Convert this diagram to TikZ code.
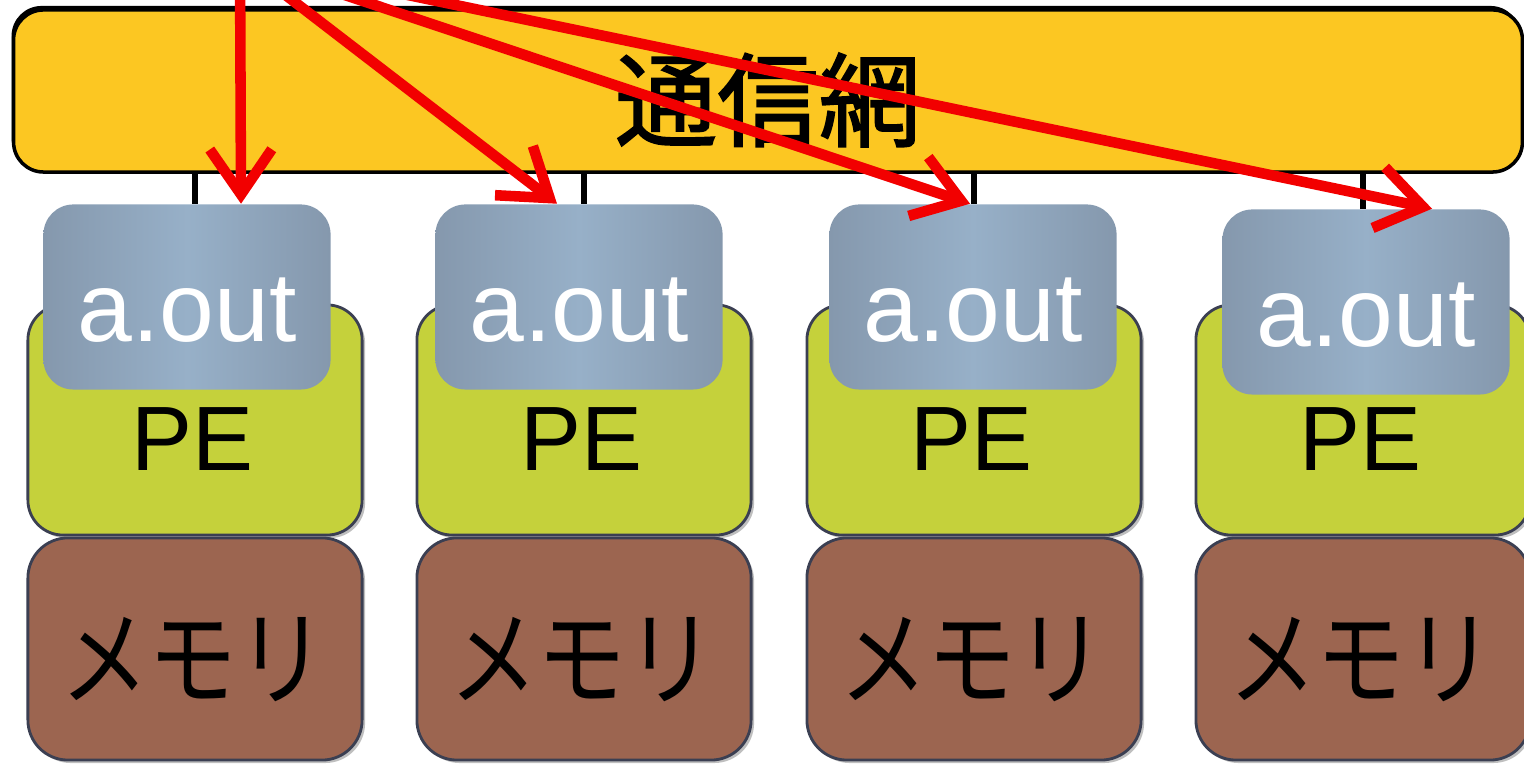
\documentclass[tikz,border=0pt]{standalone}
\usepackage{fontspec}
\usepackage{graphicx}
\newfontfamily\latinfont{Liberation Sans}
\newfontfamily\jpfont{Noto Sans CJK JP}
\newfontfamily\jpheavy[FakeBold=1.6]{Noto Sans CJK JP}
\newcommand{\narrowjp}[1]{\scalebox{0.84}[1]{#1}}
\usetikzlibrary{arrows.meta, shadows}

\definecolor{netyellow}{HTML}{FCC722}
\definecolor{aoutblue}{HTML}{97B0C8}
\definecolor{aoutdark}{HTML}{8598AD}
\definecolor{pegreen}{HTML}{C5D13B}
\definecolor{memred}{HTML}{9C6550}
\definecolor{edgegray}{HTML}{3B3F52}
\definecolor{arrowred}{HTML}{F20000}

\tikzset{
  netbox/.style={draw=black, line width=1pt, fill=netyellow, rounded corners=0.3cm,
    minimum width=15.08cm, minimum height=1.62cm,
    drop shadow={shadow xshift=-0.02cm, shadow yshift=0.04cm, opacity=1, fill=black}},
  aoutbox/.style={rounded corners=0.3cm, left color=aoutdark, right color=aoutdark,
    middle color=aoutblue, minimum width=2.87cm, minimum height=1.85cm},
  pebox/.style={draw=edgegray, line width=0.8pt, fill=pegreen, rounded corners=0.35cm,
    minimum width=3.34cm, minimum height=2.3cm,
    drop shadow={shadow xshift=0.03cm, shadow yshift=-0.03cm, opacity=0.5}},
  membox/.style={pebox, fill=memred, rounded corners=0.4cm, minimum height=2.22cm},
  outtext/.style={anchor=base, text=white, font=\latinfont\fontsize{28}{30}\selectfont},
  petext/.style={anchor=base, font=\latinfont\fontsize{26}{28}\selectfont},
  memtext/.style={font=\jpfont\fontsize{30}{32}\selectfont},
  nettext/.style={font=\jpheavy\fontsize{29}{31}\selectfont},
  tickline/.style={line width=1.8pt},
  sendarrow/.style={arrowred, line width=3pt, -{Straight Barb[length=0.45cm, width=0.62cm]}}
}

\begin{document}
\begin{tikzpicture}[x=0.01cm, y=-0.01cm]
    \useasboundingbox (0,0) rectangle (1524,765);

    % Network
    \node[netbox] (net) at (768,91) {};
    \node[nettext] (netlabel) at (768,100) {通信網};

    % Processing elements
    \foreach \i/\x/\ax/\ay in {1/195/187/297, 2/584/579/297, 3/974/973/297, 4/1363/1366/302} {
        \node[pebox] (pe\i) at (\x,420) {};
        \node[membox] (mem\i) at (\x,649) {};
        \node[aoutbox] (aout\i) at (\ax,\ay) {};
        \draw[tickline] (net.south -| pe\i.north) -- (aout\i.north -| pe\i.north);
        \node[outtext] (outlabel\i) at (\ax,\ay+45) {a.out};
        \node[petext] (pelabel\i) at (\x-3,471) {PE};
        \node[memtext] (memlabel\i) at (\x-2,660) {\narrowjp{メモリ}};
    }

    % Distribution of a.out
    \coordinate (src) at (240,-40);
    \foreach \i/\tip in {1/0.54cm, 2/-0.22cm, 3/-0.03cm, 4/0.66cm}
        \draw[sendarrow] (src) -- ([xshift=\tip]aout\i.north);
\end{tikzpicture}
\end{document}
